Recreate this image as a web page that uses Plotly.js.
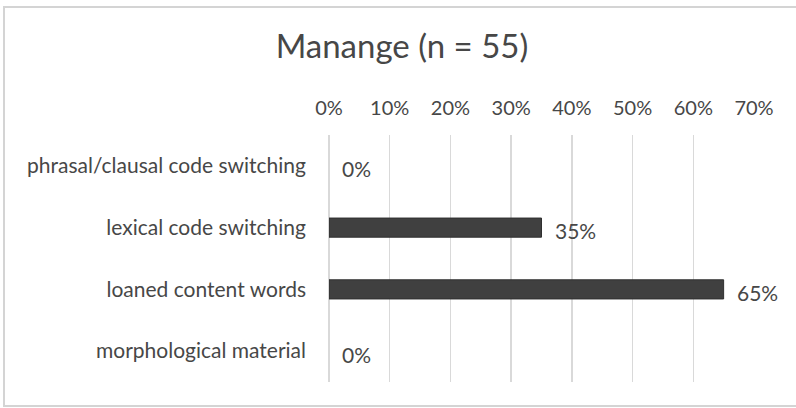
<!DOCTYPE html>
<html>
<head>
<meta charset="utf-8">
<script src="https://cdn.plot.ly/plotly-3.0.1.min.js"></script>
<style>
  html, body { margin: 0; padding: 0; background: #ffffff; }
  #wrap { position: relative; width: 796px; height: 408px; overflow: hidden; }
  #frame { position: absolute; left: 3px; top: 6px; width: 800px; height: 397px;
           border: 2px solid #d4d4d4; box-sizing: content-box; pointer-events: none; }
  #chart { position: absolute; left: 0; top: 0; width: 796px; height: 408px; }
</style>
</head>
<body>
<div id="wrap">
  <div id="chart"></div>
  <div id="frame"></div>
</div>
<script>
// Share of borrowing types in the Manange sample (n = 55)
const categories = [
  "phrasal/clausal code switching",
  "lexical code switching",
  "loaned content words",
  "morphological material"
];
const shares = [0.00, 0.35, 0.65, 0.00];
const tickValues = [0, 0.1, 0.2, 0.3, 0.4, 0.5, 0.6, 0.7];
const tickLabels = ["0%", "10%", "20%", "30%", "40%", "50%", "60%", "70%"];
const chartTitle = "Manange (n = 55)";

const textColor = "#474747";
const fontFamily = "Lato, 'Open Sans', sans-serif";

const bars = {
  type: "bar",
  orientation: "h",
  x: shares,
  y: categories,
  width: 0.31,
  marker: {
    color: "#404040",
    // empty categories get no outline so nothing shows at zero
    line: { color: "#2f2f2f", width: shares.map(v => (v > 0 ? 1 : 0)) }
  },
  hoverinfo: "skip"
};

// value labels placed just past the end of each bar
const valueLabels = shares.map((v, i) => ({
  x: v,
  y: categories[i],
  xref: "x",
  yref: "y",
  text: Math.round(v * 100) + "%",
  showarrow: false,
  xanchor: "left",
  xshift: 11,
  yshift: -3,
  font: { family: fontFamily, size: 21, color: textColor }
}));

const layout = {
  width: 796,
  height: 408,
  paper_bgcolor: "#ffffff",
  plot_bgcolor: "#ffffff",
  margin: { l: 329, r: 42, t: 135, b: 26 },
  showlegend: false,
  title: {
    text: chartTitle,
    x: 0.505,
    xanchor: "center",
    y: 0.885,
    yanchor: "middle",
    font: { family: fontFamily, size: 33, color: textColor }
  },
  xaxis: {
    side: "top",
    range: [0, 0.7],
    tickvals: tickValues,
    ticktext: tickLabels,
    showgrid: true,
    gridcolor: "#d9d9d9",
    gridwidth: 1.5,
    zeroline: true,
    zerolinecolor: "#d9d9d9",
    zerolinewidth: 1.5,
    showline: false,
    ticks: "",
    ticklabelstandoff: 15,
    tickfont: { family: fontFamily, size: 20, color: textColor },
    fixedrange: true
  },
  yaxis: {
    type: "category",
    autorange: "reversed",
    showgrid: false,
    zeroline: false,
    showline: false,
    ticks: "",
    ticklabelstandoff: 22,
    tickfont: { family: fontFamily, size: 21, color: textColor },
    fixedrange: true
  },
  annotations: valueLabels
};

Plotly.newPlot("chart", [bars], layout, { displayModeBar: false, staticPlot: true });
</script>
</body>
</html>
